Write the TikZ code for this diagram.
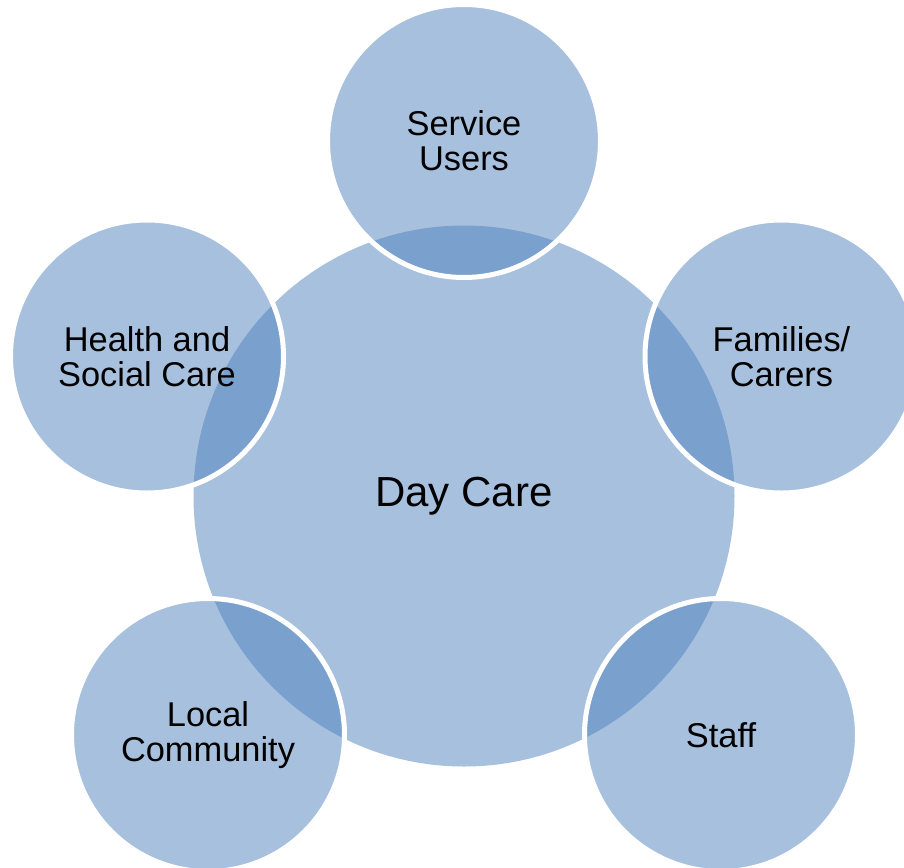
\documentclass[tikz,border=0pt]{standalone}
\usepackage{fontspec}
\setmainfont{Liberation Sans}
\definecolor{accentblue}{HTML}{4F81BD}
\tikzset{
  hub/.style={circle, inner sep=0pt, minimum size=405.75pt, fill=accentblue, fill opacity=0.5, text opacity=1, align=center, font=\fontsize{31.5}{32}\selectfont},
  sat/.style={circle, inner sep=0pt, minimum size=204.75pt, fill=accentblue, fill opacity=0.5, draw=white, draw opacity=1, line width=3.75pt, text opacity=1, align=center, font=\fontsize{25.8}{26.3}\selectfont}
}
\begin{document}
\begin{tikzpicture}[x=0.75pt,y=-0.75pt]
\useasboundingbox (0,0) rectangle (904,868);
\node[hub] (day) at (464,496) {Day Care};
\node[sat] (users) at (464,141) {Service\\Users};
\node[sat] (fam) at (781.5,356.5) {Families/\\Carers};
\node[sat] (staff) at (721,735) {Staff};
\node[sat] (local) at (208,735) {Local\\Community};
\node[sat] (health) at (147,356.5) {Health and\\Social Care};
\end{tikzpicture}
\end{document}
